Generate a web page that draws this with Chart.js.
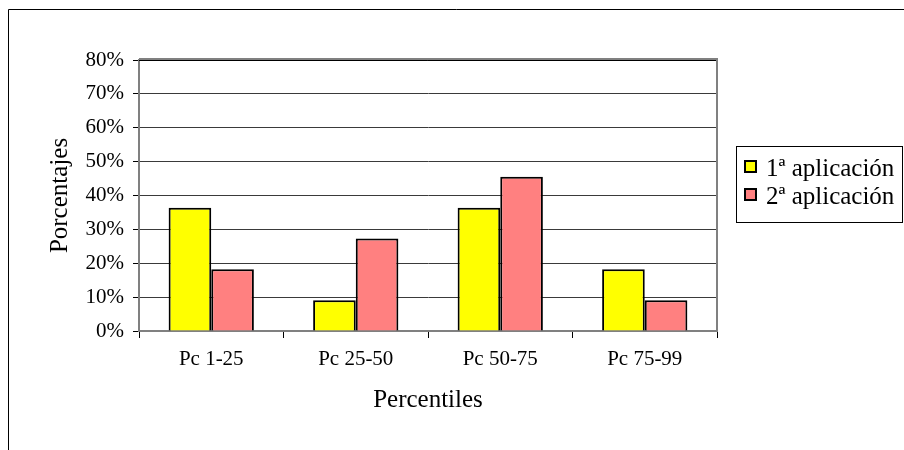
<!DOCTYPE html>
<html>
<head>
<meta charset="utf-8">
<script src="https://cdn.jsdelivr.net/npm/chart.js@4"></script>
<style>
  html, body { margin: 0; padding: 0; background: #fff; }
  canvas { display: block; }
</style>
</head>
<body>
<canvas id="grafico" width="904" height="450"></canvas>
<script>
// Datos: porcentaje de alumnos por tramo de percentil
const categorias = ['Pc 1-25', 'Pc 25-50', 'Pc 50-75', 'Pc 75-99'];
const primeraAplicacion = [36.4, 9.1, 36.4, 18.2];
const segundaAplicacion = [18.2, 27.3, 45.5, 9.1];
const nombresSeries = ['1ª aplicación', '2ª aplicación'];
const tituloX = 'Percentiles';
const tituloY = 'Porcentajes';

const FUENTE = '"Liberation Serif", "Times New Roman", serif';
const GRIS = '#808080';

// Marco exterior (izquierda y arriba) y borde del área de trazado
const marco = {
  id: 'marco',
  beforeDatasetsDraw(chart) {
    const { ctx, chartArea: a } = chart;
    ctx.save();
    ctx.strokeStyle = GRIS;
    ctx.lineWidth = 2;
    ctx.beginPath();
    ctx.moveTo(a.left, a.top - 1);
    ctx.lineTo(a.right, a.top - 1);
    ctx.lineTo(a.right, a.bottom);
    ctx.stroke();
    ctx.strokeStyle = '#000';
    ctx.lineWidth = 1;
    ctx.beginPath();
    ctx.moveTo(a.left, a.top + 0.5);
    ctx.lineTo(a.right - 1, a.top + 0.5);
    ctx.stroke();
    ctx.restore();
  },
  afterDraw(chart) {
    const { ctx, width, height } = chart;
    ctx.save();
    ctx.strokeStyle = '#000';
    ctx.lineWidth = 1;
    ctx.beginPath();
    ctx.moveTo(8.5, height);
    ctx.lineTo(8.5, 9.5);
    ctx.lineTo(width, 9.5);
    ctx.stroke();
    ctx.restore();
  }
};

// Leyenda con recuadro a la derecha del gráfico
const leyenda = {
  id: 'leyenda',
  afterDraw(chart) {
    const { ctx } = chart;
    const x0 = 736.5, y0 = 146.5, w = 166, h = 76;
    ctx.save();
    ctx.fillStyle = '#fff';
    ctx.fillRect(x0, y0, w, h);
    ctx.strokeStyle = '#000';
    ctx.lineWidth = 1;
    ctx.strokeRect(x0, y0, w, h);
    ctx.font = '25px ' + FUENTE;
    ctx.textBaseline = 'alphabetic';
    ctx.textAlign = 'left';
    chart.data.datasets.forEach((ds, i) => {
      const cy = 167 + i * 28;
      ctx.fillStyle = ds.backgroundColor;
      ctx.fillRect(745, cy - 6, 11, 11);
      ctx.strokeStyle = '#000';
      ctx.lineWidth = 2;
      ctx.strokeRect(745, cy - 6, 11, 11);
      ctx.fillStyle = '#000';
      ctx.fillText(ds.label, 766, cy + 9);
    });
    ctx.restore();
  }
};

new Chart(document.getElementById('grafico'), {
  type: 'bar',
  data: {
    labels: categorias,
    datasets: [
      {
        label: nombresSeries[0],
        data: primeraAplicacion,
        backgroundColor: '#FFFF00',
        borderColor: '#000',
        borderWidth: 2
      },
      {
        label: nombresSeries[1],
        data: segundaAplicacion,
        backgroundColor: '#FF8080',
        borderColor: '#000',
        borderWidth: 2
      }
    ]
  },
  options: {
    responsive: false,
    animation: false,
    devicePixelRatio: 1,
    categoryPercentage: 0.59,
    barPercentage: 1.0,
    layout: { padding: { left: 0, right: 187, top: 60, bottom: 0 } },
    plugins: {
      legend: { display: false },
      tooltip: { enabled: false },
      title: { display: false }
    },
    scales: {
      x: {
        afterFit(scale) { scale.height = 119; },
        grid: {
          offset: true,
          drawOnChartArea: false,
          drawTicks: true,
          tickLength: 7,
          tickColor: '#000',
          lineWidth: 1
        },
        border: { display: true, color: GRIS, width: 2 },
        ticks: {
          color: '#000',
          padding: 9,
          font: { family: FUENTE, size: 21 }
        },
        title: {
          display: true,
          text: tituloX,
          color: '#000',
          font: { family: FUENTE, size: 25 },
          padding: { top: 0, bottom: 35 }
        }
      },
      y: {
        min: 0,
        max: 80,
        afterFit(scale) { scale.width = 139; },
        grid: {
          color: '#3a3a3a',
          lineWidth: 1,
          drawTicks: true,
          tickLength: 6,
          tickColor: '#000'
        },
        border: { display: true, color: GRIS, width: 2 },
        ticks: {
          stepSize: 10,
          color: '#000',
          padding: 9,
          font: { family: FUENTE, size: 21 },
          callback: (v) => v + '%'
        },
        title: {
          display: true,
          text: tituloY,
          color: '#000',
          font: { family: FUENTE, size: 25 },
          padding: { top: 45, bottom: 0 }
        }
      }
    }
  },
  plugins: [marco, leyenda]
});
</script>
</body>
</html>
